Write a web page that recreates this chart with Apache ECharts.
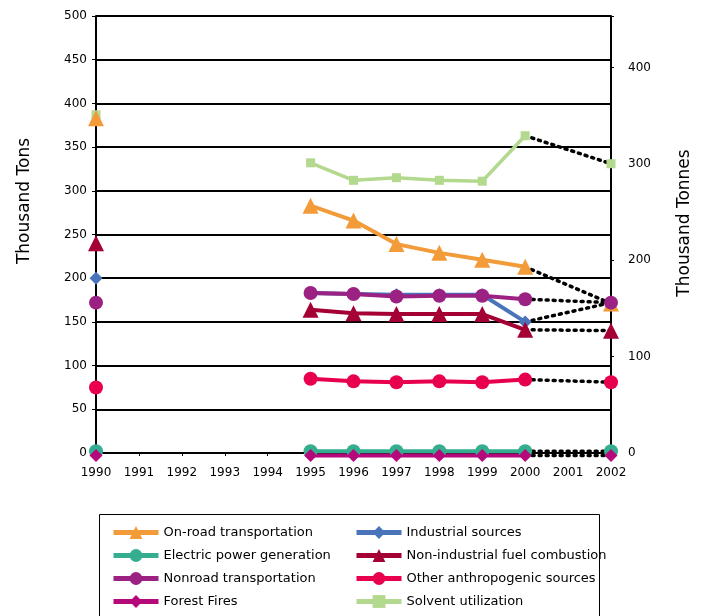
<!DOCTYPE html>
<html>
<head>
<meta charset="utf-8">
<script src="https://cdn.jsdelivr.net/npm/echarts@6/dist/echarts.min.js"></script>
<style>html,body{margin:0;padding:0;background:#fff}#c{width:723px;height:616px}</style>
</head>
<body>
<div id="c"></div>
<script>
var years = ['1990','1991','1992','1993','1994','1995','1996','1997','1998','1999','2000','2001','2002'];
// Thousand tons; null = no data
var onRoad        = [383, null, null, null, null, 283, 266, 239, 229, 221, 213, null, 171];
var industrial    = [200, null, null, null, null, 183, 182, 181, 181, 181, 150, null, 172];
var electric      = [2, null, null, null, null, 2, 2, 2, 2, 2, 2, null, 2];
var nonIndustrial = [240, null, null, null, null, 164, 160, 159, 159, 159, 141, null, 140];
var nonroad       = [172, null, null, null, null, 183, 182, 179, 180, 180, 176, null, 172];
var otherAnthro   = [75, null, null, null, null, 85, 82, 81, 82, 81, 84, null, 81];
var forestFires   = [-3, null, null, null, null, -3, -3, -3, -3, -3, -3, null, -3];
var solvent       = [387, null, null, null, null, 332, 312, 315, 312, 311, 363, null, 331];

var leftTicks = {min: 0, max: 500, interval: 50};
var tonsToTonnes = 0.90718474;

var FONT = 'DejaVu Sans';

function dottedData(arr) {
  return arr.map(function (v, i) { return (i >= 10) ? v : null; });
}

var defs = [
  {name: 'Solvent utilization', data: solvent, color: '#B3D98F', symbol: 'rect', size: 9, width: 3.5},
  {name: 'On-road transportation', data: onRoad, color: '#F29B38', symbol: 'triangle', size: 16, width: 4},
  {name: 'Industrial sources', data: industrial, color: '#4A74BA', symbol: 'diamond', size: 13, width: 4},
  {name: 'Nonroad transportation', data: nonroad, color: '#9B2183', symbol: 'circle', size: 14, width: 4},
  {name: 'Non-industrial fuel combustion', data: nonIndustrial, color: '#A50034', symbol: 'triangle', size: 16, width: 4},
  {name: 'Other anthropogenic sources', data: otherAnthro, color: '#E8004F', symbol: 'circle', size: 14, width: 4},
  {name: 'Electric power generation', data: electric, color: '#35AE8F', symbol: 'circle', size: 14, width: 4},
  {name: 'Forest Fires', data: forestFires, color: '#B5087A', symbol: 'diamond', size: 13, width: 4}
];

var series = [];
defs.forEach(function (d, k) {
  series.push({
    name: '_dot' + k, type: 'line', data: dottedData(d.data), connectNulls: true,
    symbol: 'none', silent: true, clip: false, z: 1,
    lineStyle: {color: '#000', width: 3.5, type: [2, 5], cap: 'round'}
  });
});
defs.forEach(function (d) {
  series.push({
    name: d.name, type: 'line', data: d.data, connectNulls: false, clip: false, z: 3,
    symbol: d.symbol, symbolSize: d.size, showSymbol: true,
    itemStyle: {color: d.color}, lineStyle: {color: d.color, width: d.width},
    emphasis: {disabled: true}
  });
});

var legendText = {fontFamily: FONT, fontSize: 13, color: '#000'};

var option = {
  animation: false,
  backgroundColor: '#fff',
  grid: {left: 96, right: 112, top: 16, bottom: 163, containLabel: false},
  xAxis: {
    type: 'category', data: years, boundaryGap: false,
    axisLine: {lineStyle: {color: '#000', width: 2}},
    axisTick: {show: true, length: 3, lineStyle: {color: '#000'}},
    axisLabel: {fontFamily: FONT, fontSize: 12, color: '#000', margin: 14},
    splitLine: {show: false}
  },
  yAxis: [
    {
      type: 'value', min: leftTicks.min, max: leftTicks.max, interval: leftTicks.interval,
      axisLine: {show: true, lineStyle: {color: '#000', width: 2}},
      axisTick: {show: true, length: 4, lineStyle: {color: '#000'}},
      axisLabel: {fontFamily: FONT, fontSize: 12, color: '#000', margin: 9},
      splitLine: {show: true, lineStyle: {color: '#000', width: 2}}
    },
    {
      type: 'value', position: 'right', min: 0, max: leftTicks.max * tonsToTonnes, interval: 100,
      axisLine: {show: true, lineStyle: {color: '#000', width: 2}},
      axisTick: {show: true, length: 3, lineStyle: {color: '#000'}},
      axisLabel: {fontFamily: FONT, fontSize: 12, color: '#000', margin: 17,
        formatter: function (v) { return Math.abs(v % 100) < 0.001 ? String(v) : ''; }},
      splitLine: {show: false}
    }
  ],
  legend: [
    {
      orient: 'vertical', left: 106, top: 521, itemWidth: 45, itemHeight: 16, itemGap: 10,
      textStyle: legendText, selectedMode: false, lineStyle: {width: 5},
      data: ['On-road transportation', 'Electric power generation', 'Nonroad transportation', 'Forest Fires']
    },
    {
      orient: 'vertical', left: 349, top: 521, itemWidth: 45, itemHeight: 16, itemGap: 10,
      textStyle: legendText, selectedMode: false, lineStyle: {width: 5},
      data: ['Industrial sources', 'Non-industrial fuel combustion', 'Other anthropogenic sources', 'Solvent utilization']
    }
  ],
  graphic: [
    {type: 'rect', left: 97, top: 512, shape: {width: 500, height: 110},
     style: {fill: 'none', stroke: '#000', lineWidth: 1}, z: -1},
    {type: 'text', x: 25, y: 201, rotation: Math.PI / 2,
     style: {text: 'Thousand Tons', font: '17px "DejaVu Sans"', fill: '#000', align: 'center', verticalAlign: 'middle'}},
    {type: 'text', x: 685, y: 223, rotation: Math.PI / 2,
     style: {text: 'Thousand Tonnes', font: '17px "DejaVu Sans"', fill: '#000', align: 'center', verticalAlign: 'middle'}}
  ],
  series: series
};

var chart = echarts.init(document.getElementById('c'), null, {renderer: 'canvas'});
chart.setOption(option);
</script>
</body>
</html>
